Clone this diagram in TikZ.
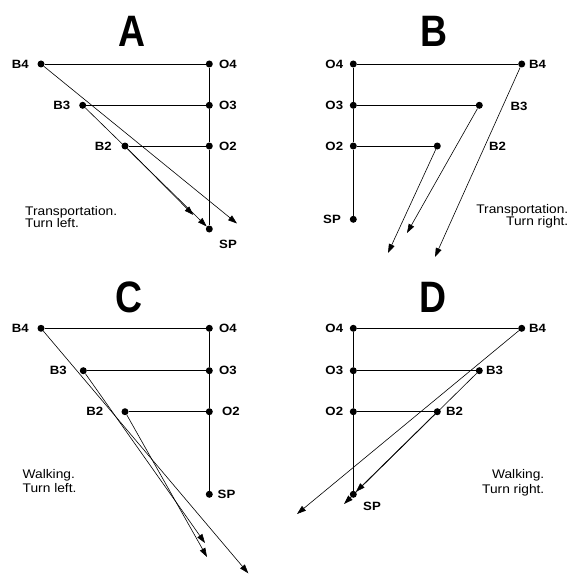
\documentclass[tikz,border=0pt]{standalone}
\usepackage{fontspec}
\setmainfont{Liberation Sans}
\usetikzlibrary{arrows.meta}
\newcommand\wtxt[1]{\scalebox{1.1}[1]{#1}}
\newcommand\bigtxt[1]{\scalebox{0.85}[1]{#1}}
\begin{document}
\begin{tikzpicture}[x=1pt,y=-1pt,
  dot/.style={circle,fill=black,inner sep=0pt,minimum size=7pt},
  lbl/.style={font=\fontsize{12}{12}\selectfont\bfseries,inner sep=0pt},
  big/.style={font=\fontsize{44}{44}\selectfont\bfseries,inner sep=0pt,anchor=base},
  note/.style={font=\fontsize{12.5}{12}\selectfont,inner sep=0pt},
  conn/.style={line width=0.8pt},
  arr/.style={line width=0.6pt,-{Triangle[length=9pt,width=6pt]}}]
\useasboundingbox (0,0) rectangle (571,575);

% ---------------- Panel A ----------------
\node[big] (tA) at (132.3,46.7) {\bigtxt{A}};
\node[dot] (aB4) at (41,64) {};
\node[dot] (aO4) at (209.3,64) {};
\node[dot] (aB3) at (82.7,105.3) {};
\node[dot] (aO3) at (209.3,105.3) {};
\node[dot] (aB2) at (125,146) {};
\node[dot] (aO2) at (209.3,146) {};
\node[dot] (aSP) at (209.3,229) {};
\node[lbl,anchor=east] (laB4) at (29,64) {\wtxt{B4}};
\node[lbl,anchor=west] (laO4) at (219,64) {\wtxt{O4}};
\node[lbl,anchor=east] (laB3) at (70.5,105.3) {\wtxt{B3}};
\node[lbl,anchor=west] (laO3) at (219,105.3) {\wtxt{O3}};
\node[lbl,anchor=east] (laB2) at (112,146) {\wtxt{B2}};
\node[lbl,anchor=west] (laO2) at (219,146) {\wtxt{O2}};
\node[lbl] (laSP) at (228,244) {\wtxt{SP}};
\node[note,anchor=base west] (naA1) at (25,215) {\wtxt{Transportation.}};
\node[note,anchor=base west] (naA2) at (25,227) {\wtxt{Turn left.}};
\coordinate (aE4) at (237,223.5);
\coordinate (aE2) at (193.3,215);
\draw[conn] (aO4) -- (aO3) -- (aO2) -- (aSP);
\draw[conn] (aB4) -- (aO4);
\draw[conn] (aB3) -- (aO3);
\draw[conn] (aB2) -- (aO2);
\draw[arr] (aB4) -- (aE4);
\draw[arr] (aB3) -- (aSP);
\draw[arr] (aB2) -- (aE2);

% ---------------- Panel B ----------------
\node[big] (tB) at (434,46.7) {\bigtxt{B}};
\node[dot] (bO4) at (353.3,64) {};
\node[dot] (bB4) at (521.7,64) {};
\node[dot] (bO3) at (353.3,105.3) {};
\node[dot] (bB3) at (479.3,105.3) {};
\node[dot] (bO2) at (353.3,146) {};
\node[dot] (bB2) at (437.3,146) {};
\node[dot] (bSP) at (353.3,219.3) {};
\node[lbl,anchor=east] (lbO4) at (343.3,64) {\wtxt{O4}};
\node[lbl,anchor=east] (lbO3) at (343.3,105.3) {\wtxt{O3}};
\node[lbl,anchor=east] (lbO2) at (343.3,146) {\wtxt{O2}};
\node[lbl,anchor=east] (lbSP) at (341,219.3) {\wtxt{SP}};
\node[lbl,anchor=west] (lbB4) at (529,64) {\wtxt{B4}};
\node[lbl,anchor=west] (lbB3) at (510.5,106) {\wtxt{B3}};
\node[lbl,anchor=west] (lbB2) at (489,146) {\wtxt{B2}};
\node[note,anchor=base east] (nbB1) at (568.5,213.3) {\wtxt{Transportation.}};
\node[note,anchor=base east] (nbB2) at (568.5,225.3) {\wtxt{Turn right.}};
\coordinate (bE4) at (435,257);
\coordinate (bE3) at (407,233);
\coordinate (bE2) at (388,253);
\draw[conn] (bO4) -- (bO3) -- (bO2) -- (bSP);
\draw[conn] (bO4) -- (bB4);
\draw[conn] (bO3) -- (bB3);
\draw[conn] (bO2) -- (bB2);
\draw[arr] (bB4) -- (bE4);
\draw[arr] (bB3) -- (bE3);
\draw[arr] (bB2) -- (bE2);

% ---------------- Panel C ----------------
\node[big] (tC) at (129.3,312) {\bigtxt{C}};
\node[dot] (cB4) at (41,328.3) {};
\node[dot] (cO4) at (209.3,328.3) {};
\node[dot] (cB3) at (83.3,370.7) {};
\node[dot] (cO3) at (209.3,370.7) {};
\node[dot] (cB2) at (125,411.7) {};
\node[dot] (cO2) at (209.3,411.7) {};
\node[dot] (cSP) at (209.3,494.3) {};
\node[lbl,anchor=east] (lcB4) at (29,328.3) {\wtxt{B4}};
\node[lbl,anchor=west] (lcO4) at (219,328.3) {\wtxt{O4}};
\node[lbl,anchor=east] (lcB3) at (67,370.7) {\wtxt{B3}};
\node[lbl,anchor=west] (lcO3) at (219,370.7) {\wtxt{O3}};
\node[lbl,anchor=east] (lcB2) at (103.5,411.7) {\wtxt{B2}};
\node[lbl,anchor=west] (lcO2) at (222,411.7) {\wtxt{O2}};
\node[lbl,anchor=west] (lcSP) at (217.5,494.3) {\wtxt{SP}};
\node[note,anchor=base west] (ncC1) at (22.5,478) {\wtxt{Walking.}};
\node[note,anchor=base west] (ncC2) at (22.5,492) {\wtxt{Turn left.}};
\coordinate (cE4) at (248.3,573.3);
\coordinate (cE3) at (205,543);
\coordinate (cE2) at (207,557);
\draw[conn] (cO4) -- (cO3) -- (cO2) -- (cSP);
\draw[conn] (cB4) -- (cO4);
\draw[conn] (cB3) -- (cO3);
\draw[conn] (cB2) -- (cO2);
\draw[arr] (cB4) -- (cE4);
\draw[arr] (cB3) -- (cE3);
\draw[arr] (cB2) -- (cE2);

% ---------------- Panel D ----------------
\node[big] (tD) at (433,312.3) {\bigtxt{D}};
\node[dot] (dO4) at (353.3,328.3) {};
\node[dot] (dB4) at (521.7,328.3) {};
\node[dot] (dO3) at (353.3,370.7) {};
\node[dot] (dB3) at (479.3,370.7) {};
\node[dot] (dO2) at (353.3,411.7) {};
\node[dot] (dB2) at (437.3,411.7) {};
\node[dot] (dSP) at (353.3,494.3) {};
\node[lbl,anchor=east] (ldO4) at (343.3,328.3) {\wtxt{O4}};
\node[lbl,anchor=east] (ldO3) at (343.3,370.7) {\wtxt{O3}};
\node[lbl,anchor=east] (ldO2) at (343.3,411.7) {\wtxt{O2}};
\node[lbl,anchor=west] (ldB4) at (529,328.3) {\wtxt{B4}};
\node[lbl,anchor=west] (ldB3) at (486,370.7) {\wtxt{B3}};
\node[lbl,anchor=west] (ldB2) at (446,411.7) {\wtxt{B2}};
\node[lbl] (ldSP) at (372,506.7) {\wtxt{SP}};
\node[note,anchor=base east] (ndD1) at (544.5,478.5) {\wtxt{Walking.}};
\node[note,anchor=base east] (ndD2) at (544.5,493) {\wtxt{Turn right.}};
\coordinate (dE4) at (297,514);
\coordinate (dE3) at (344,504);
\draw[conn] (dO4) -- (dO3) -- (dO2) -- (dSP);
\draw[conn] (dO4) -- (dB4);
\draw[conn] (dO3) -- (dB3);
\draw[conn] (dO2) -- (dB2);
\draw[arr] (dB4) -- (dE4);
\draw[arr] (dB3) -- (dE3);
\draw[arr] (dB2) -- (dSP);
\end{tikzpicture}
\end{document}
